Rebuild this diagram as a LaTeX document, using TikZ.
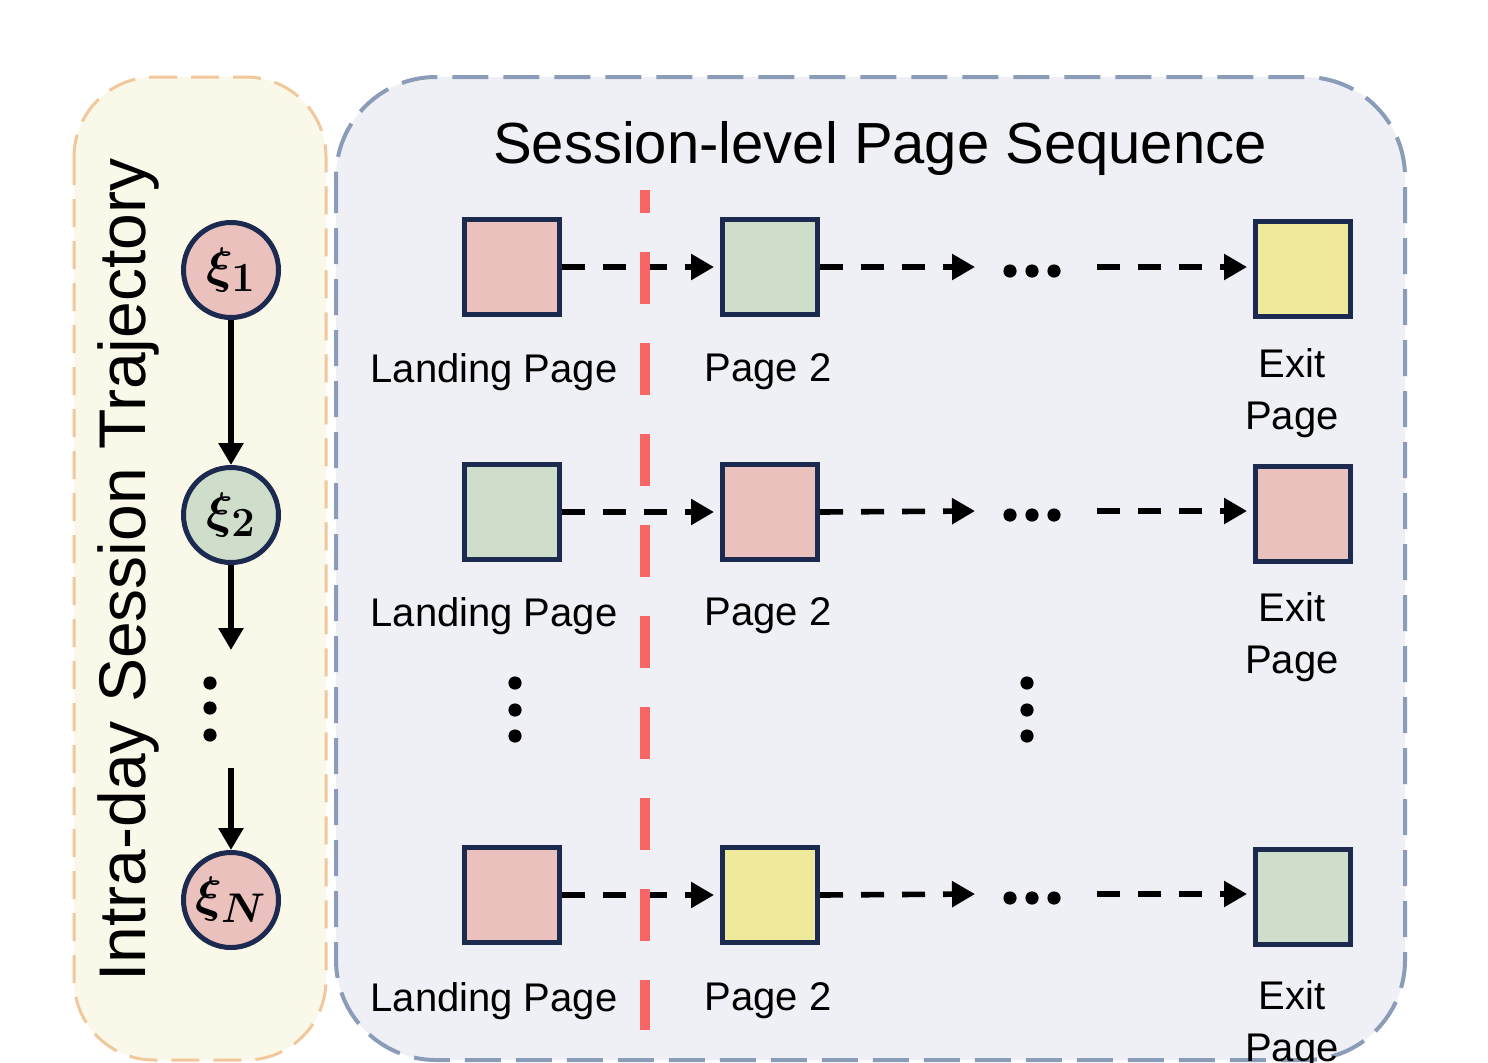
\documentclass[tikz,border=0pt]{standalone}
\usepackage{fontspec}
\setmainfont{Liberation Sans}
\usetikzlibrary{arrows.meta,positioning}

\definecolor{pinkfill}{HTML}{EBC1BE}
\definecolor{greenfill}{HTML}{CFDDCB}
\definecolor{yellowfill}{HTML}{EFEA9B}
\definecolor{navy}{HTML}{1B2A4E}
\definecolor{trajfill}{HTML}{FAF8E8}
\definecolor{trajline}{HTML}{F0C89B}
\definecolor{seqfill}{HTML}{EFF0F6}
\definecolor{seqline}{HTML}{8A9CB8}
\definecolor{cutred}{HTML}{F96464}

\newcommand{\lbl}{\fontsize{20}{24}\selectfont}

\begin{document}
\begin{tikzpicture}[x=0.5pt,y=-0.5pt,
    page/.style={draw=navy, line width=2.5pt, minimum size=47.5pt, inner sep=0pt},
    state/.style={circle, draw=navy, line width=2.5pt, minimum size=47.5pt, inner sep=0pt,
                  font=\fontsize{28}{28}\selectfont\boldmath},
    flow/.style={line width=2.8pt, dash pattern=on 11.5pt off 9pt, shorten >=3pt,
                 -{Triangle[length=11.5pt,width=12.5pt]}},
    down/.style={line width=3.2pt, -{Triangle[length=11pt,width=12pt]}},
    pagelabel/.style={font=\lbl, align=center, inner sep=0pt}]
    \useasboundingbox (0,0) rectangle (1488,1062);
    \clip (0,0) rectangle (1488,1062);

    % Panels
    \draw[trajline, fill=trajfill, line width=1.5pt, dash pattern=on 14pt off 7pt,
          rounded corners=40pt] (74,77) rectangle (326,1060);
    \draw[seqline, fill=seqfill, line width=2pt, dash pattern=on 18pt off 7.5pt,
          rounded corners=50pt] (336,77) rectangle (1405,1060);

    % Trajectory of sessions
    \node[rotate=90, font=\fontsize{33}{33}\selectfont] (trajtitle) at (128,570) {Intra-day Session Trajectory};
    \node[state, fill=pinkfill] (xi1) at (231,270) {$\xi_{1}$};
    \node[state, fill=greenfill] (xi2) at (231,515) {$\xi_{2}$};
    \node[state, fill=pinkfill] (xiN) at (231,900) {$\xi_{N}$};
    \coordinate (xiend) at (231,650);
    \coordinate (xistart) at (231,768);
    \draw[down] (xi1) -- (xi2);
    \draw[down] (xi2) -- (xiend);
    \draw[down] (xistart) -- (xiN);
    \foreach \y in {683,708,735}
        \fill (210,\y) circle (3.3pt);

    % Page sequences
    \node[font=\fontsize{29}{29}\selectfont] (seqtitle) at (880,148) {Session-level Page Sequence};

    \node[page, fill=pinkfill] (land1) at (512,267) {};
    \node[page, fill=greenfill] (mid1) at (770,267) {};
    \node[page, fill=yellowfill] (exit1) at (1303,269) {};

    \node[page, fill=greenfill] (land2) at (512,512) {};
    \node[page, fill=pinkfill] (mid2) at (770,512) {};
    \node[page, fill=pinkfill] (exit2) at (1303,514) {};

    \node[page, fill=pinkfill] (land3) at (512,895) {};
    \node[page, fill=yellowfill] (mid3) at (770,895) {};
    \node[page, fill=greenfill] (exit3) at (1303,897) {};

    % Arrows along each session
    \foreach \r/\y in {1/267,2/511,3/894} {
        \coordinate (gapin\r) at (975,\y);
        \coordinate (gapout\r) at (1097,\y);
        \draw[flow] (land\r.east) -- (mid\r.west);
        \draw[flow, shorten >=0pt] (mid\r.east) -- (gapin\r);
        \draw[flow] (gapout\r) -- (exit\r.west |- gapout\r);
        \foreach \x in {1010,1032,1054}
            \fill (\x,\y+4) circle (3.3pt);
    }

    % Labels
    \foreach \r/\y/\ey in {1/372/393,2/616/637,3/1001/1025} {
        \node[pagelabel] (landlbl\r) at (494,\y) {Landing Page};
        \node[pagelabel] (midlbl\r) at (768,\y) {Page 2};
        \node[pagelabel] (exitlbl\r) at (1292,\ey) {Exit\\[2pt]Page};
    }

    % Omitted sessions
    \foreach \x in {515,1027}
        \foreach \y in {683,710,736}
            \fill (\x,\y) circle (3.3pt);

    % Cut between landing page and the rest
    \draw[cutred, line width=5pt, dash pattern=on 26pt off 19.5pt, dash phase=14.5pt]
        (645,190) -- (645,1030);
\end{tikzpicture}
\end{document}
